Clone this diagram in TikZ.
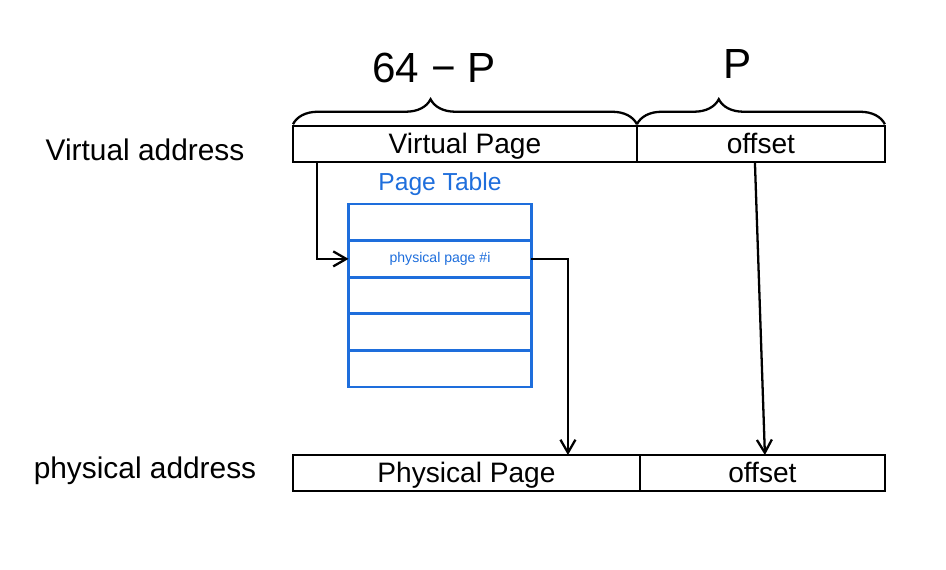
\documentclass[tikz,border=0pt]{standalone}
\usepackage{fontspec}
\setmainfont{Liberation Sans}
\usetikzlibrary{positioning, decorations.pathreplacing, arrows.meta}
\definecolor{tableblue}{RGB}{30, 110, 220}

\begin{document}
\begin{tikzpicture}[x=0.02cm, y=-0.02cm, line width=1.3pt, >={Straight Barb[length=2.6mm, width=3mm]},
		field/.style={draw, rectangle, minimum height=0.72cm, inner sep=0pt, outer sep=0pt, text height=2.1ex, text depth=0.1ex, font=\fontsize{16}{18}\selectfont},
		row/.style={draw=tableblue, rectangle, minimum width=3.66cm, minimum height=0.732cm, inner sep=0pt, outer sep=0pt, line width=1.5pt},
		side/.style={font=\fontsize{17}{20}\selectfont}]
	\useasboundingbox (0,0) rectangle (946,570);
	% address fields
	\node[field, minimum width=6.88cm, anchor=north west] (vpage) at (293,126) {Virtual Page};
	\node[field, minimum width=4.96cm, right=0pt of vpage] (voffset) {offset};
	\node[field, minimum width=6.94cm, anchor=north west] (ppage) at (293,455) {Physical Page};
	\node[field, minimum width=4.90cm, right=0pt of ppage] (poffset) {offset};
	\node[side] (vlabel) at (145,150) {Virtual address};
	\node[side] (plabel) at (145,471) {physical address};
	% page table
	\foreach \i in {1,...,5} {
		\node[row] (row\i) at (440, 185.7+36.6*\i) {};
	}
	\node[text=tableblue, font=\fontsize{8}{9}\selectfont] (entry) at (row2) {physical page \#i};
	\node[text=tableblue, font=\fontsize{14}{16}\selectfont, above=1pt of row1] (ptitle) {Page Table};
	% braces
	\draw[decorate, decoration={brace, amplitude=0.5cm, aspect=0.4}] ([yshift=1pt]vpage.north west) -- ([yshift=1pt]vpage.north east);
	\draw[decorate, decoration={brace, amplitude=0.5cm, aspect=0.33}] ([yshift=1pt]voffset.north west) -- ([yshift=1pt]voffset.north east);
	\node[font=\fontsize{24}{28}\selectfont] (vbits) at (434,68) {64 − P};
	\node[font=\fontsize{24}{28}\selectfont] (obits) at (738,64) {P};
	% connectors
	\draw[->] ([xshift=0.48cm]vpage.south west) |- (row2.west);
	\draw[->] (row2.east) -| ([xshift=-1.44cm]ppage.north east);
	\draw[->] ([xshift=-0.12cm]voffset.south) -- ([xshift=0.05cm]poffset.north);
\end{tikzpicture}
\end{document}
